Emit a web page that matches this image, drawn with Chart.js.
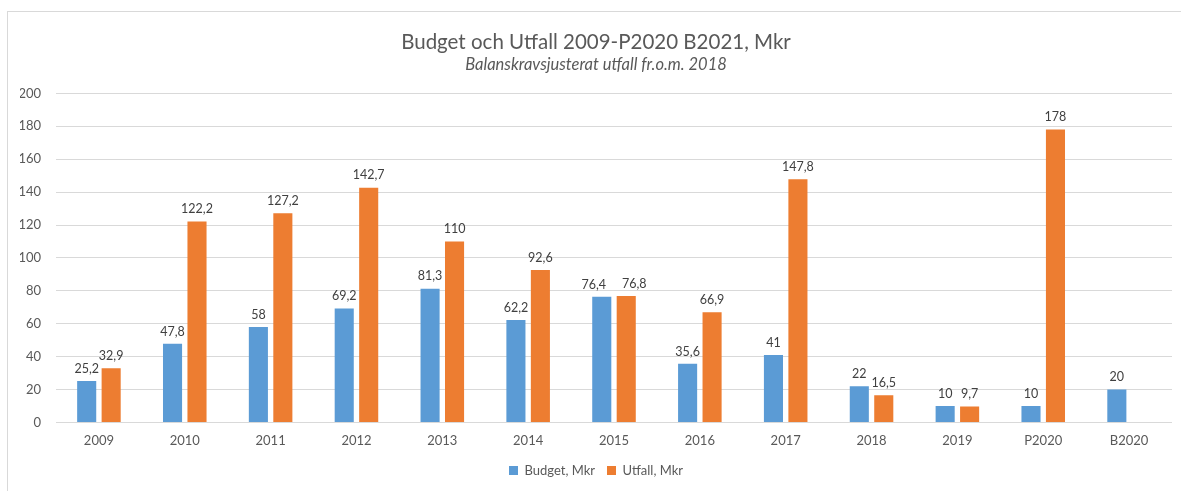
<!DOCTYPE html>
<html>
<head>
<meta charset="utf-8">
<script src="https://cdn.jsdelivr.net/npm/chart.js@4.4.0/dist/chart.umd.min.js"></script>
<style>
  html, body { margin: 0; padding: 0; background: #fff; }
  #frame {
    position: absolute; left: 7px; top: 11px; width: 1180px; height: 486px;
    border: 1px solid #d9d9d9; box-sizing: border-box; background: #fff;
  }
  #chartBox { position: absolute; left: 0; top: 0; width: 1178px; height: 484px; }
</style>
</head>
<body>
<div id="frame"><div id="chartBox"><canvas id="budgetChart"></canvas></div></div>
<script>
// Budget vs outcome per year (Mkr)
const categories = ['2009','2010','2011','2012','2013','2014','2015','2016','2017','2018','2019','P2020','B2020'];
const budgetValues = [25.2, 47.8, 58, 69.2, 81.3, 62.2, 76.4, 35.6, 41, 22, 10, 10, 20];
const utfallValues = [32.9, 122.2, 127.2, 142.7, 110, 92.6, 76.8, 66.9, 147.8, 16.5, 9.7, 178, null];
const yTicks = [0, 20, 40, 60, 80, 100, 120, 140, 160, 180, 200];

const textGray = '#595959';
const fontFamily = 'Lato, "Open Sans", sans-serif';

// draws the value above each bar, Swedish decimal comma;
// labels of the same category that would collide get pushed apart
const barLabels = {
  id: 'barLabels',
  afterDatasetsDraw(chart) {
    const ctx = chart.ctx;
    ctx.save();
    ctx.font = '12.5px ' + fontFamily;
    ctx.fillStyle = '#404040';
    ctx.textAlign = 'center';
    ctx.textBaseline = 'bottom';
    const m0 = chart.getDatasetMeta(0), m1 = chart.getDatasetMeta(1);
    chart.data.labels.forEach((_, i) => {
      const items = [];
      [m0, m1].forEach((meta, di) => {
        const v = chart.data.datasets[di].data[i];
        if (v === null || v === undefined) return;
        const txt = String(v).replace('.', ',');
        const bar = meta.data[i];
        items.push({ txt, x: bar.x, y: bar.y - 6, w: ctx.measureText(txt).width });
      });
      if (items.length === 2) {
        const [a, b] = items;
        const gap = (b.x - b.w / 2) - (a.x + a.w / 2);
        if (Math.abs(a.y - b.y) < 12 && gap < 4) {
          const push = (16 - gap) / 2;
          a.x -= push; b.x += push;
        }
      }
      items.forEach(it => ctx.fillText(it.txt, it.x, it.y));
    });
    ctx.restore();
  }
};

new Chart(document.getElementById('budgetChart'), {
  type: 'bar',
  data: {
    labels: categories,
    datasets: [
      { label: 'Budget, Mkr', data: budgetValues, backgroundColor: '#5b9bd5',
        categoryPercentage: 0.57, barPercentage: 0.78 },
      { label: 'Utfall, Mkr', data: utfallValues, backgroundColor: '#ed7d31',
        categoryPercentage: 0.57, barPercentage: 0.78 }
    ]
  },
  options: {
    responsive: true,
    maintainAspectRatio: false,
    animation: false,
    layout: { padding: { left: 12, right: 14, top: 8, bottom: 9 } },
    plugins: {
      title: {
        display: true,
        text: 'Budget och Utfall 2009-P2020 B2021, Mkr',
        color: textGray,
        font: { family: fontFamily, size: 20.5, weight: 'normal' },
        padding: { top: 10, bottom: 0 }
      },
      subtitle: {
        display: true,
        text: 'Balanskravsjusterat utfall fr.o.m. 2018',
        color: textGray,
        font: { family: fontFamily, size: 16.5, style: 'italic' },
        padding: { bottom: 19 }
      },
      legend: {
        position: 'bottom',
        labels: {
          color: textGray,
          boxWidth: 9, boxHeight: 9,
          padding: 12,
          font: { family: fontFamily, size: 13 }
        }
      },
      tooltip: { enabled: false }
    },
    scales: {
      x: {
        grid: { display: false },
        border: { display: false },
        ticks: { color: textGray, font: { family: fontFamily, size: 13 }, padding: 3 }
      },
      y: {
        min: 0, max: 200,
        afterBuildTicks(axis) { axis.ticks = yTicks.map(v => ({ value: v })); },
        afterFit(axis) { axis.width = 36; },
        grid: { color: '#d9d9d9', drawTicks: false },
        border: { display: false },
        ticks: { color: textGray, font: { family: fontFamily, size: 13 }, padding: 15 }
      }
    }
  },
  plugins: [barLabels]
});
</script>
</body>
</html>
